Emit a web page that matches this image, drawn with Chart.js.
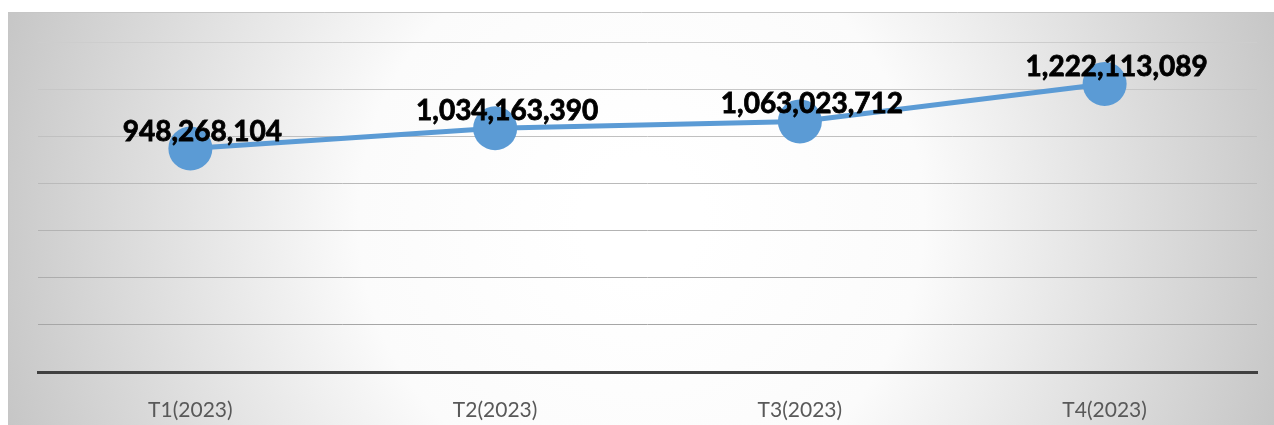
<!DOCTYPE html>
<html>
<head>
<meta charset="utf-8">
<script src="https://cdn.jsdelivr.net/npm/chart.js"></script>
<style>
  html, body { margin: 0; padding: 0; background: #fff; }
  #wrap { position: absolute; left: 8px; top: 12px; width: 1266px; height: 413px; }
</style>
</head>
<body>
<div id="wrap"><canvas id="chart"></canvas></div>
<script>
const quarters = ['T1(2023)', 'T2(2023)', 'T3(2023)', 'T4(2023)'];
const revenue = [948268104, 1034163390, 1063023712, 1222113089];
const yMin = 0;
const yMax = 1400000000;
const yStep = 200000000;

const blue = '#5B9BD5';

// radial grey panel behind the chart
const panelBg = {
  id: 'panelBg',
  beforeDraw(chart) {
    const c = chart.ctx;
    const w = chart.width, h = chart.height;
    c.save();
    const g = c.createRadialGradient(w * 0.5, h * 0.5, 60, w * 0.5, h * 0.5, w * 0.55);
    g.addColorStop(0, '#ffffff');
    g.addColorStop(0.35, '#fbfbfb');
    g.addColorStop(1, '#c2c2c2');
    c.fillStyle = g;
    c.fillRect(0, 0, w, h);
    c.strokeStyle = '#c6c6c6';
    c.lineWidth = 1;
    c.beginPath();
    c.moveTo(0.5, h);
    c.lineTo(0.5, 0.5);
    c.lineTo(w, 0.5);
    c.stroke();
    c.restore();
  }
};

// bold value labels above each point
const valueLabels = {
  id: 'valueLabels',
  afterDatasetsDraw(chart) {
    const c = chart.ctx;
    const meta = chart.getDatasetMeta(0);
    c.save();
    c.font = 'bold 28px Lato';
    c.fillStyle = '#000';
    c.textAlign = 'center';
    c.textBaseline = 'middle';
    meta.data.forEach((pt, i) => {
      const txt = revenue[i].toLocaleString('en-US');
      c.fillText(txt, pt.x + 12, pt.y - 17);
      // slightly heavier stroke to mimic the thick original face
      c.lineWidth = 0.8;
      c.strokeStyle = '#000';
      c.strokeText(txt, pt.x + 12, pt.y - 17);
    });
    c.restore();
  }
};

new Chart(document.getElementById('chart'), {
  type: 'line',
  data: {
    labels: quarters,
    datasets: [{
      data: revenue,
      borderColor: blue,
      borderWidth: 5,
      pointRadius: 22,
      pointHoverRadius: 22,
      pointBorderWidth: 0,
      pointBackgroundColor: blue,
      tension: 0,
      clip: false
    }]
  },
  options: {
    responsive: true,
    maintainAspectRatio: false,
    animation: false,
    events: [],
    layout: { autoPadding: false, padding: { left: 30, right: 17, top: 30, bottom: 0 } },
    plugins: {
      legend: { display: false },
      tooltip: { enabled: false }
    },
    scales: {
      x: {
        offset: true,
        grid: { display: false },
        border: { display: true, color: '#404040', width: 3 },
        ticks: {
          color: '#595959',
          font: { family: 'Lato', size: 21 },
          padding: 18
        },
        afterFit(scale) {
          scale.height = 53;
          scale.paddingLeft = 0;
          scale.paddingRight = 0;
        }
      },
      y: {
        min: yMin,
        max: yMax,
        ticks: { display: false, stepSize: yStep },
        border: { display: false },
        grid: {
          drawTicks: false,
          lineWidth: 1,
          color(ctx) {
            if (ctx.tick.value === 0) return 'rgba(0,0,0,0)';
            const k = ctx.tick.value / yMax;
            const v = Math.round(160 + 45 * k);
            return `rgb(${v},${v},${v})`;
          }
        }
      }
    }
  },
  plugins: [panelBg, valueLabels]
});
</script>
</body>
</html>
